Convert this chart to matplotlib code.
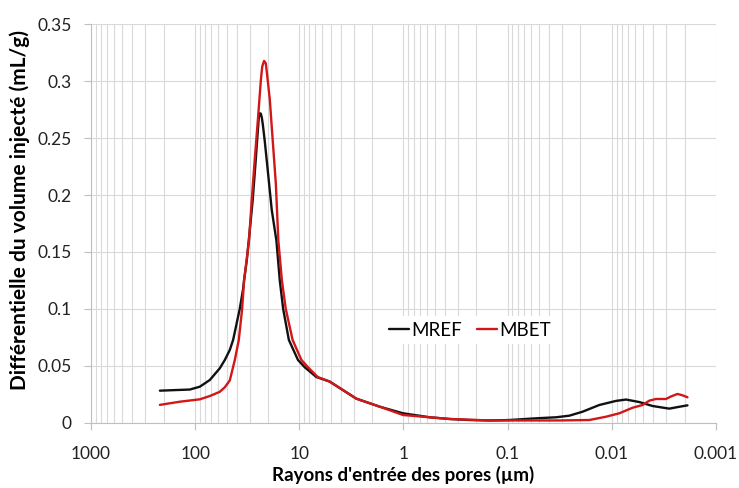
import matplotlib.pyplot as plt
import matplotlib.ticker as mticker
import numpy as np

# pore entry radius (um) and differential injected volume (mL/g)
mref_radius = [218, 156.5, 112.4, 90.1, 72.3, 58.0, 51.9, 46.5, 43.2, 37.3, 34.7, 33.9,
			   31.9, 29.9, 28.0, 26.2, 25.0, 24.5, 24.0, 23.4, 22.9, 22.4, 21.5, 20.1, 18.4,
			   16.6, 15.4, 14.3, 12.6, 10.3, 8.87, 6.86, 5.11, 2.84, 1.69, 1.01, 0.562, 0.361,
			   0.232, 0.149, 0.096, 0.0533, 0.0343, 0.0256, 0.0191, 0.0132, 0.00912, 0.00731,
			   0.00545, 0.00406, 0.00281, 0.00236, 0.00188]
mref_value = [0.028, 0.0285, 0.029, 0.0315, 0.0374, 0.0477, 0.055, 0.0638, 0.0726, 0.1, 0.117, 0.125,
			  0.143, 0.169, 0.196, 0.231, 0.257, 0.268, 0.272, 0.2715, 0.268, 0.262, 0.248, 0.222, 0.187,
			  0.160, 0.125, 0.1, 0.0726, 0.055, 0.0486, 0.040, 0.036, 0.021, 0.0139, 0.0081, 0.0046, 0.0031,
			  0.0022, 0.0018, 0.0022, 0.0037, 0.0046, 0.006, 0.0095, 0.0154, 0.019, 0.0202,
			  0.018, 0.0145, 0.0122, 0.0135, 0.0151]

mbet_radius = [218, 140.2, 90.1, 72.3, 58.0, 51.9, 46.5, 41.6, 38.1, 35.4, 33.9, 30.4,
			   28.6, 26.8, 25.0, 23.4, 22.7, 21.8, 21.0, 20.5, 19.2, 18.0, 16.8, 15.9, 14.7, 13.5,
			   11.6, 9.55, 8.25, 6.66, 5.11, 2.84, 1.69, 1.01, 0.562, 0.361, 0.149, 0.077,
			   0.0319, 0.0164, 0.01137, 0.00848, 0.00632, 0.00507, 0.00437, 0.00377,
			   0.00302, 0.00269, 0.00234, 0.00211, 0.00188]
mbet_value = [0.0155, 0.0183, 0.0204, 0.0233, 0.027, 0.031, 0.037, 0.055, 0.0726, 0.1, 0.125, 0.160,
			  0.196, 0.231, 0.266, 0.301, 0.313, 0.318, 0.316, 0.308, 0.284, 0.248, 0.210, 0.160, 0.125, 0.1,
			  0.0726, 0.055, 0.0486, 0.040, 0.036, 0.021, 0.0139, 0.0066, 0.0046, 0.0031, 0.0018, 0.0018,
			  0.0018, 0.0022, 0.0051, 0.0081, 0.013, 0.0154, 0.0192, 0.0207,
			  0.0207, 0.023, 0.0251, 0.024, 0.0222]

x_ticks = [1000, 100, 10, 1, 0.1, 0.01, 0.001]
x_tick_labels = ['1000', '100', '10', '1', '0.1', '0.01', '0.001']
y_ticks = [0, 0.05, 0.1, 0.15, 0.2, 0.25, 0.3, 0.35]
y_tick_labels = ['0', '0.05', '0.1', '0.15', '0.2', '0.25', '0.3', '0.35']

plt.rcParams['font.family'] = ['Lato', 'DejaVu Sans']

fig = plt.figure(figsize=(7.39, 4.88), dpi=100)
ax = fig.add_axes([0.1231, 0.1342, 0.8458, 0.8156])

ax.plot(mref_radius, mref_value, color='#111111', linewidth=1.7, label='MREF', zorder=3,
		solid_joinstyle='round', solid_capstyle='round')
ax.plot(mbet_radius, mbet_value, color='#d01818', linewidth=1.7, label='MBET', zorder=3,
		solid_joinstyle='round', solid_capstyle='round')

ax.set_xscale('log')
ax.set_xlim(1000, 0.001)
ax.set_ylim(0, 0.35)

ax.xaxis.set_major_locator(mticker.FixedLocator(x_ticks))
ax.xaxis.set_major_formatter(mticker.FixedFormatter(x_tick_labels))
ax.xaxis.set_minor_locator(mticker.LogLocator(base=10, subs=np.arange(2, 10)))
ax.xaxis.set_minor_formatter(mticker.NullFormatter())
ax.set_yticks(y_ticks)
ax.set_yticklabels(y_tick_labels)

ax.grid(True, which='both', axis='x', color='#d9d9d9', linewidth=0.8)
ax.grid(True, which='major', axis='y', color='#d9d9d9', linewidth=0.8)
ax.set_axisbelow(True)

ax.tick_params(axis='x', which='major', length=5, color='#bfbfbf', labelsize=12.5, pad=12, labelcolor='#222222')
ax.tick_params(axis='x', which='minor', length=0)
ax.tick_params(axis='y', length=5, color='#bfbfbf', labelsize=12.5, pad=9, labelcolor='#222222')

for s in ['top', 'right']:
	ax.spines[s].set_visible(False)
for s in ['left', 'bottom']:
	ax.spines[s].set_color('#bfbfbf')

ax.set_xlabel("Rayons d'entrée des pores (µm)", fontsize=13.5, fontweight='bold')
ax.set_ylabel('Différentielle du volume injecté (mL/g)', fontsize=15, fontweight='bold')
ax.xaxis.set_label_coords(0.5, -0.108)
ax.yaxis.set_label_coords(-0.098, 0.535)

leg = ax.legend(loc='center', bbox_to_anchor=(0.606, 0.232), ncol=2, frameon=True, fontsize=13.5,
				handlelength=1.1, handletextpad=0.1, columnspacing=0.8, borderpad=0.3)
leg.get_frame().set_edgecolor('none')
leg.get_frame().set_facecolor('white')
leg.get_frame().set_alpha(1)

fig.savefig('out.png', dpi=100)
